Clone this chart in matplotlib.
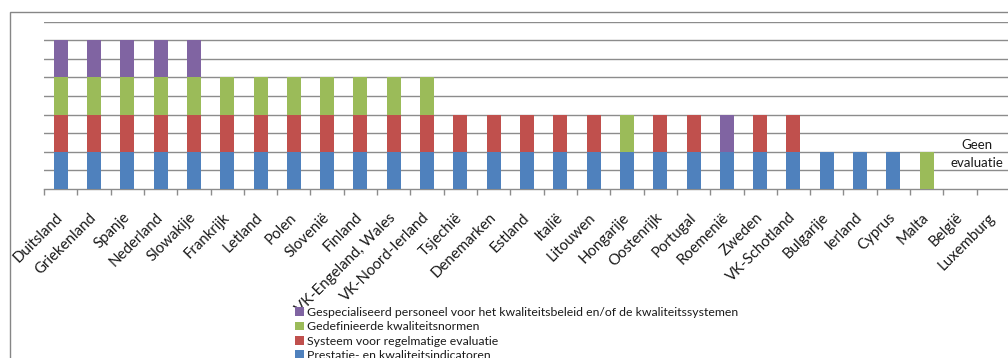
import matplotlib
matplotlib.use("Agg")
import matplotlib.pyplot as plt
from matplotlib.patches import Rectangle, Patch
import numpy as np

plt.rcParams['font.family'] = ['Lato', 'DejaVu Sans']

landen = ["Duitsland", "Griekenland", "Spanje", "Nederland", "Slowakije",
          "Frankrijk", "Letland", "Polen", "Slovenië", "Finland",
          "VK-Engeland, Wales", "VK-Noord-Ierland", "Tsjechië", "Denemarken",
          "Estland", "Italië", "Litouwen", "Hongarije", "Oostenrijk",
          "Portugal", "Roemenië", "Zweden", "VK-Schotland", "Bulgarije",
          "Ierland", "Cyprus", "Malta", "België", "Luxemburg"]

indicatoren = [1, 1, 1, 1, 1, 1, 1, 1, 1, 1, 1, 1, 1, 1, 1, 1, 1, 1, 1, 1,
               1, 1, 1, 1, 1, 1, 0, 0, 0]
evaluatie = [1, 1, 1, 1, 1, 1, 1, 1, 1, 1, 1, 1, 1, 1, 1, 1, 1, 0, 1, 1,
             0, 1, 1, 0, 0, 0, 0, 0, 0]
normen = [1, 1, 1, 1, 1, 1, 1, 1, 1, 1, 1, 1, 0, 0, 0, 0, 0, 1, 0, 0,
          0, 0, 0, 0, 0, 0, 1, 0, 0]
personeel = [1, 1, 1, 1, 1, 0, 0, 0, 0, 0, 0, 0, 0, 0, 0, 0, 0, 0, 0, 0,
             1, 0, 0, 0, 0, 0, 0, 0, 0]

reeksen = ["Prestatie- en kwaliteitsindicatoren",
           "Systeem voor regelmatige evaluatie",
           "Gedefinieerde kwaliteitsnormen",
           "Gespecialiseerd personeel voor het kwaliteitsbeleid en/of de kwaliteitssystemen"]
kleuren = ["#4F81BD", "#C0504D", "#9BBB59", "#8064A2"]
geen_tekst = "Geen\nevaluatie"

W, H = 1008, 358
fig = plt.figure(figsize=(W / 100, H / 100), dpi=100)

# outer chart frame (runs off the right and bottom edges)
fig.patches.append(Rectangle((10 / W, -0.1), 1.2, 1 - 12 / H + 0.1,
                             transform=fig.transFigure, fill=False,
                             edgecolor="#868686", linewidth=1.0))

ax = fig.add_axes([44 / W, 1 - 189 / H, (1010 - 44) / W, (189 - 21.7) / H])
x = np.arange(len(landen))
onder = np.zeros(len(landen))
for waarden, kleur, naam in zip([indicatoren, evaluatie, normen, personeel],
                                kleuren, reeksen):
    w = np.array(waarden, dtype=float)
    ax.bar(x, w, width=0.42, bottom=onder, color=kleur, label=naam, zorder=3)
    onder += w

ax.set_xlim(-0.5, len(landen) - 0.5)
ax.set_ylim(0, 4.5)
ax.set_yticks(np.arange(0.5, 4.51, 0.5))
ax.yaxis.grid(True, color="#8c8c8c", linewidth=1.0, zorder=0)
ax.tick_params(axis="y", length=0, labelleft=False)
for s in ["top", "right", "left"]:
    ax.spines[s].set_visible(False)
ax.spines["bottom"].set_color("#8c8c8c")
ax.spines["bottom"].set_linewidth(1.0)

ax.set_xticks(x)
ax.set_xticklabels(landen, rotation=45, ha="right", va="center",
                   rotation_mode="anchor", fontsize=10.8, color="#1a1a1a")
ax.tick_params(axis="x", which="major", length=0, pad=19)
ax.set_xticks(np.arange(-0.5, len(landen), 1.0), minor=True)
ax.tick_params(axis="x", which="minor", length=4, color="#8c8c8c", width=1.0)

ax.text(27.5, 0.94, geen_tekst, ha="center", va="center", fontsize=9.5,
        linespacing=1.66, color="#1a1a1a")

handles = [Patch(facecolor=k) for k in kleuren[::-1]]
fig.legend(handles, reeksen[::-1], loc="upper left",
           bbox_to_anchor=(295 / W, 1 - 307 / H), frameon=False,
           fontsize=8.8, handlelength=0.7, handleheight=0.7,
           handletextpad=0.3, labelspacing=0.27, borderpad=0,
           borderaxespad=0, labelcolor="#1a1a1a")

fig.savefig("out.png", dpi=100)
